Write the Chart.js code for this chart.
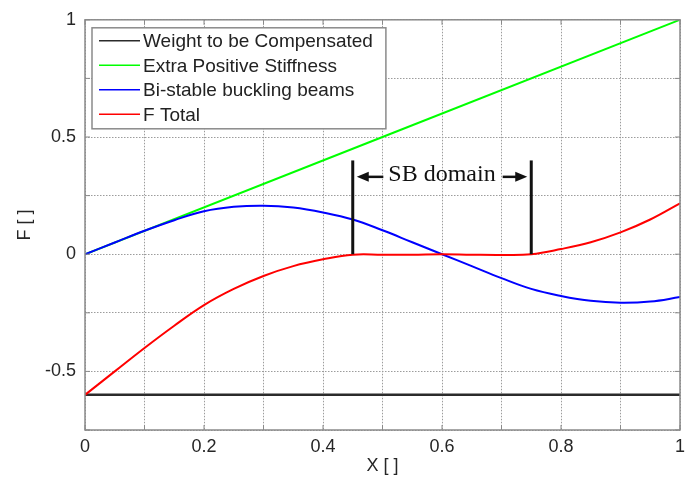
<!DOCTYPE html>
<html>
<head>
<meta charset="utf-8">
<script src="https://cdn.jsdelivr.net/npm/chart.js@4.4.1/dist/chart.umd.min.js"></script>
<style>
  body { margin: 0; background: #fff; }
  canvas { display: block; }
</style>
</head>
<body>
<canvas id="forceChart" width="695" height="481"></canvas>
<script>
// normalised displacement samples
const xPos = [0, 0.05, 0.1, 0.15, 0.2, 0.25, 0.3, 0.35, 0.4, 0.45, 0.5,
              0.55, 0.6, 0.65, 0.7, 0.75, 0.8, 0.85, 0.9, 0.95, 1];
const beamForce = [0, 0.05, 0.10, 0.145, 0.183, 0.202, 0.207, 0.199, 0.178, 0.148, 0.102,
                   0.051, 0, -0.051, -0.102, -0.148, -0.178, -0.199, -0.207, -0.202, -0.183];
const totalForce = [-0.6, -0.5, -0.4, -0.305, -0.217, -0.148, -0.093, -0.051, -0.022, -0.002, -0.002,
                    -0.002, 0, -0.002, -0.003, 0, 0.022, 0.051, 0.093, 0.148, 0.217];
const weightX = [0, 1];
const weightForce = [-0.6, -0.6];
const stiffX = [0, 1];
const stiffForce = [0, 1];

const seriesLabels = ['Weight to be Compensated', 'Extra Positive Stiffness', 'Bi-stable buckling beams', 'F Total'];
const seriesColors = ['#2b2b2b', '#00ff00', '#0000ff', '#ff0000'];

const xTickLabels = ['0', '0.2', '0.4', '0.6', '0.8', '1'];
const yTickLabels = ['-0.5', '0', '0.5', '1'];

// statically balanced domain markers
const sbBounds = [0.45, 0.75];
const sbTop = 0.4;
const sbArrowAt = 0.33;
const sbLabel = 'SB domain';

function pts(xs, ys) {
    return xs.map((v, i) => ({ x: v, y: ys[i] }));
}

function fmt(v) {
    return String(Math.round(v * 100) / 100);
}

const boxColor = '#8a8a8a';

function line(ctx, x1, y1, x2, y2) {
    ctx.beginPath();
    ctx.moveTo(x1, y1);
    ctx.lineTo(x2, y2);
    ctx.stroke();
}

function arrowHead(ctx, tipX, tipY, dir) {
    ctx.beginPath();
    ctx.moveTo(tipX, tipY);
    ctx.lineTo(tipX - dir * 12, tipY - 5);
    ctx.lineTo(tipX - dir * 12, tipY + 5);
    ctx.closePath();
    ctx.fill();
}

const decorations = {
    id: 'decorations',
    afterDatasetsDraw(chart) {
        const { ctx, chartArea: a, scales: { x, y } } = chart;
        ctx.save();

        // SB domain bars, arrows and label
        const xl = x.getPixelForValue(sbBounds[0]);
        const xr = x.getPixelForValue(sbBounds[1]);
        const y0 = y.getPixelForValue(0);
        const yt = y.getPixelForValue(sbTop);
        const ya = y.getPixelForValue(sbArrowAt);
        ctx.strokeStyle = '#111';
        ctx.fillStyle = '#111';
        ctx.lineWidth = 3;
        line(ctx, xl, y0, xl, yt);
        line(ctx, xr, y0, xr, yt);

        ctx.font = '24px "Liberation Serif", "Times New Roman", serif';
        const cx = x.getPixelForValue((sbBounds[0] + sbBounds[1]) / 2);
        const tw = ctx.measureText(sbLabel).width;
        ctx.textAlign = 'center';
        ctx.textBaseline = 'middle';
        ctx.fillText(sbLabel, cx, ya - 2);

        ctx.lineWidth = 2.5;
        line(ctx, cx - tw / 2 - 5, ya, xl + 10, ya);
        arrowHead(ctx, xl + 4, ya, -1);
        line(ctx, cx + tw / 2 + 7, ya, xr - 10, ya);
        arrowHead(ctx, xr - 4, ya, 1);

        // axes box with inward ticks
        ctx.strokeStyle = boxColor;
        ctx.lineWidth = 1.5;
        ctx.strokeRect(a.left, a.top, a.right - a.left, a.bottom - a.top);
        ctx.lineWidth = 1;
        x.ticks.forEach(t => {
            const px = x.getPixelForValue(t.value);
            line(ctx, px, a.bottom, px, a.bottom - 5);
            line(ctx, px, a.top, px, a.top + 5);
        });
        y.ticks.forEach(t => {
            const py = y.getPixelForValue(t.value);
            line(ctx, a.left, py, a.left + 5, py);
            line(ctx, a.right, py, a.right - 5, py);
        });

        // legend box
        ctx.font = '19px "Liberation Sans", Arial, sans-serif';
        const lx = a.left + 7, ly = a.top + 8;
        const rowH = 24.5;
        const textX = lx + 51;
        const maxW = Math.max(...seriesLabels.map(s => ctx.measureText(s).width));
        const lw = textX - lx + maxW + 13;
        const lh = rowH * seriesLabels.length + 3;
        ctx.fillStyle = '#fff';
        ctx.fillRect(lx, ly, lw, lh);
        ctx.strokeStyle = boxColor;
        ctx.lineWidth = 1.5;
        ctx.strokeRect(lx, ly, lw, lh);
        ctx.textAlign = 'left';
        ctx.textBaseline = 'middle';
        seriesLabels.forEach((s, i) => {
            const ry = ly + 13 + i * rowH;
            ctx.strokeStyle = seriesColors[i];
            ctx.lineWidth = 1.5;
            line(ctx, lx + 7, ry, lx + 48, ry);
            ctx.fillStyle = '#222';
            ctx.fillText(s, textX, ry + 1);
        });

        ctx.restore();
    }
};

Chart.defaults.font.family = '"Liberation Sans", Arial, sans-serif';
Chart.defaults.font.size = 18;
Chart.defaults.color = '#262626';

const gridStyle = {
    color: '#9c9c9c',
    lineWidth: 1,
    tickLength: 0,
    drawTicks: false
};

new Chart(document.getElementById('forceChart'), {
    type: 'line',
    data: {
        datasets: [
            { label: seriesLabels[0], data: pts(weightX, weightForce), borderColor: seriesColors[0], borderWidth: 2.5, order: 3 },
            { label: seriesLabels[1], data: pts(stiffX, stiffForce), borderColor: seriesColors[1], borderWidth: 2, order: 2 },
            { label: seriesLabels[2], data: pts(xPos, beamForce), borderColor: seriesColors[2], borderWidth: 2, order: 1 },
            { label: seriesLabels[3], data: pts(xPos, totalForce), borderColor: seriesColors[3], borderWidth: 2, order: 0 }
        ]
    },
    options: {
        responsive: false,
        animation: false,
        devicePixelRatio: 1,
        layout: { padding: { top: 5, right: 15, left: 0, bottom: 0 } },
        elements: {
            point: { radius: 0 },
            line: { tension: 0.4 }
        },
        plugins: {
            legend: { display: false },
            tooltip: { enabled: false }
        },
        scales: {
            x: {
                type: 'linear',
                min: 0,
                max: 1,
                grid: { ...gridStyle },
                border: { display: false, dash: [1.5, 1.5] },
                ticks: {
                    stepSize: 0.1,
                    autoSkip: false,
                    maxRotation: 0,
                    padding: 6,
                    callback: v => xTickLabels.includes(fmt(v)) ? fmt(v) : ''
                },
                title: { display: true, text: 'X [ ]', font: { size: 18 }, padding: { top: 4, bottom: 4 } },
                afterFit: s => { s.height = 51; }
            },
            y: {
                type: 'linear',
                min: -0.75,
                max: 1,
                grid: { ...gridStyle },
                border: { display: false, dash: [1.5, 1.5] },
                ticks: {
                    stepSize: 0.25,
                    autoSkip: false,
                    padding: 9,
                    callback: v => yTickLabels.includes(fmt(v)) ? fmt(v) : ''
                },
                title: { display: true, text: 'F [ ]', font: { size: 18 }, padding: { top: 14, bottom: 0 } },
                afterFit: s => { s.width = 85; }
            }
        }
    },
    plugins: [decorations]
});
</script>
</body>
</html>
